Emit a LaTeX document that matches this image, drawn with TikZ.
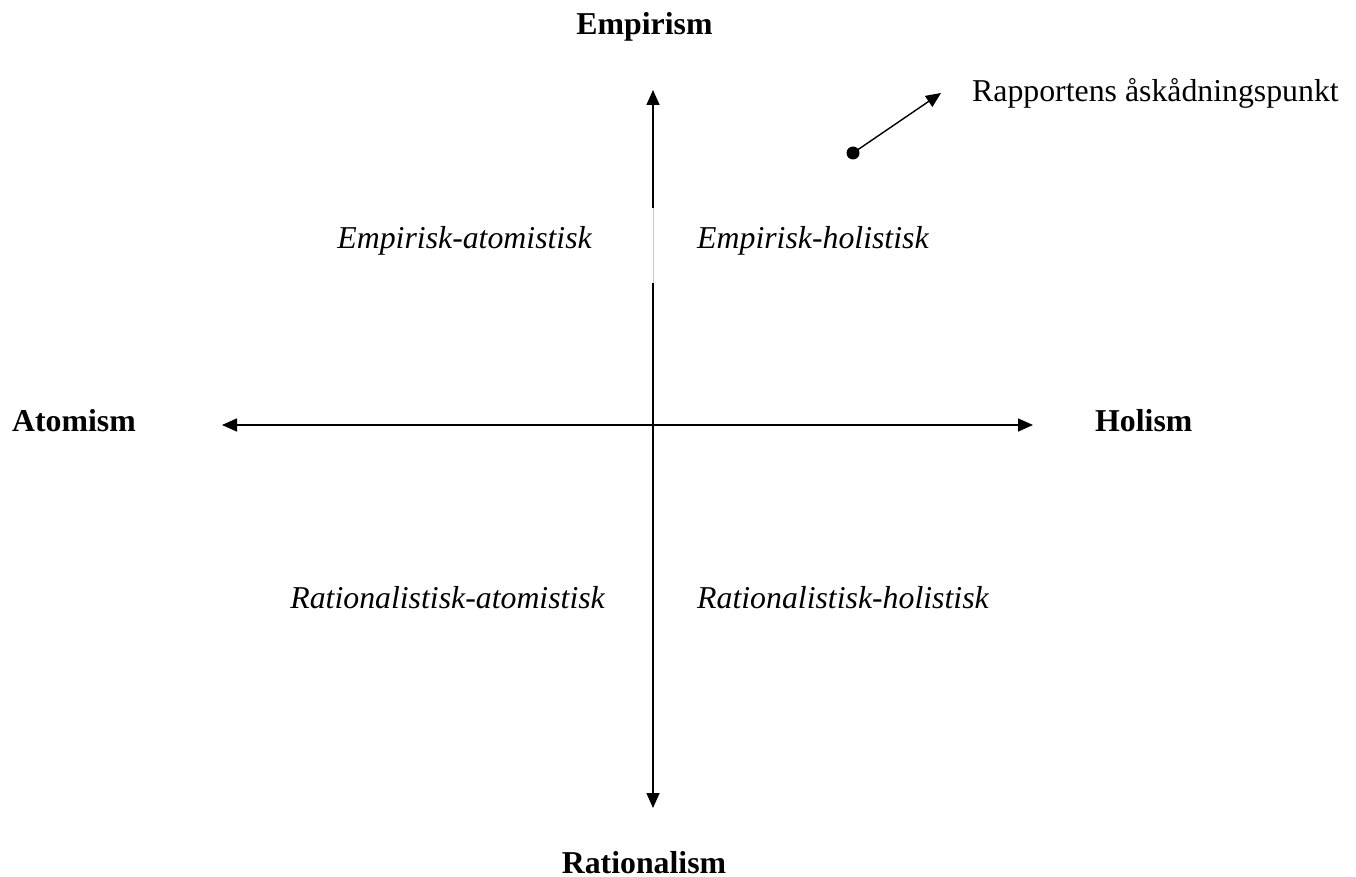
\documentclass[tikz,border=0pt]{standalone}
\usepackage{fontspec}
\setmainfont{Liberation Serif}
\usetikzlibrary{arrows.meta}
\begin{document}
\begin{tikzpicture}[x=1pt,y=-1pt,
  axis/.style={line width=1.6pt,-{Triangle[length=15pt,width=13pt]}},
  pole/.style={font=\fontsize{31.8}{36}\selectfont\bfseries},
  quad/.style={font=\fontsize{31.8}{36}\selectfont\itshape},
  note/.style={font=\fontsize{31.8}{36}\selectfont},
  every node/.style={inner sep=0pt}]
\useasboundingbox (0,0) rectangle (1356,877);
% axis endpoints
\coordinate (c) at (653,425);
\coordinate (top) at (653,90);
\coordinate (bot) at (653,808);
\coordinate (left) at (222,425);
\coordinate (right) at (1033,425);
\coordinate (gapA) at (653,208);
\coordinate (gapB) at (653,283);
% vertical axis, broken behind the upper labels
\draw[axis] (gapA) -- (top);
\draw[line width=0.6pt, black!20] (gapA) -- (gapB);
\draw[axis] (gapB) -- (bot);
% horizontal axis
\draw[axis] (c) -- (left);
\draw[axis] (c) -- (right);
% pole labels
\node[pole, anchor=base] (emp) at (644.5,35) {Empirism};
\node[pole, anchor=base] (rat) at (644,873) {Rationalism};
\node[pole, anchor=base west] (ato) at (12,431) {Atomism};
\node[pole, anchor=base west] (hol) at (1095,431) {Holism};
% quadrant labels
\node[quad, anchor=base east] (ea) at (592,248) {Empirisk-atomistisk};
\node[quad, anchor=base west] (eh) at (697,248) {Empirisk-holistisk};
\node[quad, anchor=base east] (ra) at (605,608) {Rationalistisk-atomistisk};
\node[quad, anchor=base west] (rh) at (697,608) {Rationalistisk-holistisk};
% viewpoint marker
\node[circle, fill=black, minimum size=13pt] (dot) at (853,153) {};
\coordinate (tip) at (941,93);
\draw[line width=1.4pt,-{Triangle[length=15pt,width=13pt]}] (dot.center) -- (tip);
\node[note, anchor=base west] (view) at (972,102) {Rapportens åskådningspunkt};
\end{tikzpicture}
\end{document}
